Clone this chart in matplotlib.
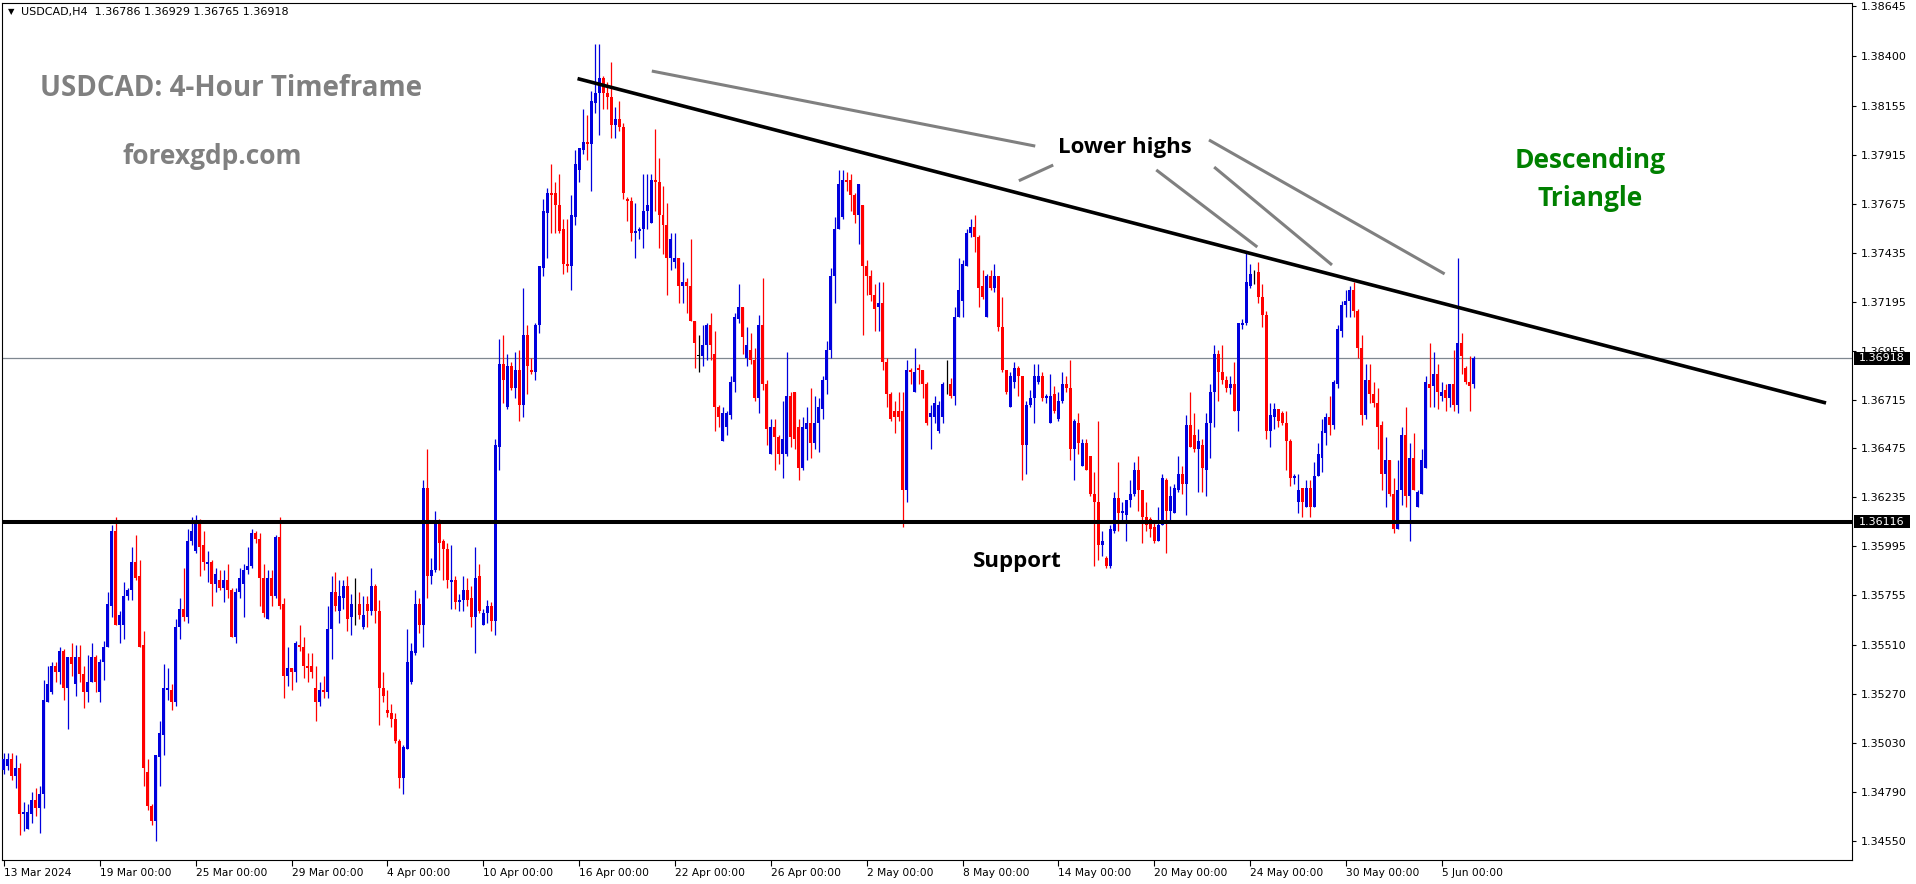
import numpy as np
import matplotlib.pyplot as plt
from matplotlib.patches import Rectangle
from matplotlib.transforms import blended_transform_factory

# H4 candles, values in pips above 1.3400
opens = [
    90, 92, 95, 87, 91, 68, 61, 68, 75, 71,
    78, 123, 128, 141, 138, 148, 130, 145, 132, 145,
    137, 128, 133, 145, 128, 143, 150, 170, 207, 161,
    161, 175, 178, 192, 185, 151, 89, 72, 65, 96,
    107, 129, 129, 123, 160, 169, 165, 202, 197, 211,
    200, 191, 192, 181, 183, 179, 183, 178, 155, 177,
    181, 188, 190, 206, 203, 184, 164, 184, 175, 204,
    171, 136, 140, 138, 151, 150, 141, 141, 130, 123,
    129, 128, 159, 177, 168, 174, 180, 165, 171, 171,
    160, 171, 168, 180, 168, 130, 119, 118, 115, 104,
    86, 100, 133, 147, 171, 161, 228, 185, 188, 211,
    202, 198, 182, 183, 172, 173, 178, 174, 165, 185,
    161, 167, 170, 163, 248, 289, 268, 288, 277, 286,
    269, 303, 286, 285, 308, 336, 363, 373, 373, 367,
    355, 338, 337, 361, 384, 394, 398, 397, 417, 422,
    429, 422, 420, 406, 409, 405, 370, 369, 353, 354,
    355, 364, 358, 379, 378, 362, 357, 341, 339, 341,
    327, 329, 327, 310, 293, 293, 298, 308, 294, 268,
    251, 258, 264, 280, 311, 317, 292, 296, 291, 272,
    308, 279, 245, 258, 253, 245, 245, 273, 275, 258,
    238, 257, 260, 250, 260, 267, 281, 296, 332, 355,
    361, 379, 379, 372, 362, 367, 337, 332, 323, 317,
    319, 290, 274, 266, 266, 266, 227, 286, 275, 287,
    286, 279, 263, 263, 256, 263, 278, 279, 273, 312,
    320, 337, 353, 356, 351, 327, 312, 332, 326, 332,
    307, 286, 268, 280, 287, 283, 249, 269, 272, 280,
    283, 272, 260, 274, 262, 271, 279, 277, 247, 260,
    239, 250, 244, 225, 221, 200, 194, 190, 207, 223,
    216, 215, 222, 225, 237, 227, 214, 213, 209, 202,
    210, 232, 217, 216, 227, 235, 230, 259, 254, 247,
    249, 237, 260, 275, 294, 285, 281, 277, 279, 266,
    308, 309, 327, 333, 334, 322, 313, 256, 263, 267,
    265, 260, 251, 233, 221, 228, 219, 228, 219, 234,
    243, 255, 263, 259, 279, 305, 318, 320, 325, 315,
    297, 264, 281, 274, 270, 259, 235, 242, 225, 208,
    227, 254, 224, 243, 219, 225, 238, 279, 278, 284,
    273, 276, 272, 279, 269, 299, 287, 280, 279,
]
highs = [
    98, 98, 98, 97, 93, 74, 73, 79, 81, 82,
    134, 141, 143, 143, 150, 149, 145, 152, 151, 151,
    141, 146, 152, 146, 144, 153, 177, 210, 214, 168,
    182, 179, 199, 205, 193, 158, 95, 73, 97, 114,
    142, 140, 132, 164, 174, 189, 208, 214, 215, 213,
    207, 197, 193, 189, 188, 188, 191, 179, 179, 189,
    191, 199, 208, 207, 206, 191, 188, 188, 205, 214,
    174, 150, 140, 153, 161, 155, 147, 147, 141, 133,
    136, 170, 185, 187, 183, 183, 185, 176, 184, 177,
    175, 175, 189, 181, 173, 138, 129, 122, 118, 105,
    102, 159, 152, 178, 174, 232, 247, 194, 217, 213,
    203, 201, 200, 185, 176, 185, 184, 180, 199, 191,
    169, 173, 172, 252, 301, 303, 294, 290, 295, 296,
    326, 308, 292, 309, 337, 370, 375, 387, 378, 382,
    360, 360, 372, 394, 395, 414, 411, 423, 446, 446,
    430, 427, 437, 415, 418, 407, 371, 371, 368, 356,
    382, 382, 382, 404, 390, 376, 368, 353, 353, 341,
    339, 331, 350, 310, 303, 308, 309, 314, 305, 269,
    268, 266, 283, 314, 328, 317, 307, 304, 297, 313,
    331, 281, 262, 262, 254, 271, 295, 275, 275, 262,
    263, 268, 277, 273, 272, 283, 300, 336, 361, 384,
    384, 383, 382, 373, 377, 367, 340, 335, 328, 329,
    329, 292, 275, 271, 275, 275, 291, 287, 297, 289,
    286, 280, 269, 273, 271, 280, 291, 282, 317, 341,
    340, 355, 360, 362, 352, 335, 333, 335, 338, 332,
    322, 286, 285, 290, 288, 283, 271, 276, 289, 289,
    285, 274, 284, 278, 275, 285, 283, 291, 262, 265,
    252, 252, 244, 236, 261, 207, 195, 210, 226, 241,
    221, 222, 232, 241, 244, 227, 221, 214, 212, 219,
    235, 233, 229, 230, 244, 239, 264, 275, 265, 257,
    252, 265, 279, 298, 296, 298, 283, 283, 290, 309,
    311, 344, 338, 335, 339, 328, 315, 270, 270, 267,
    266, 266, 252, 235, 235, 228, 232, 232, 241, 250,
    262, 265, 273, 281, 308, 320, 325, 327, 329, 316,
    303, 289, 289, 280, 277, 261, 253, 242, 233, 242,
    258, 268, 250, 255, 227, 247, 283, 299, 295, 289,
    280, 279, 279, 296, 341, 304, 288, 293, 293,
]
lows = [
    88, 90, 85, 81, 58, 60, 61, 64, 67, 59,
    71, 123, 127, 133, 132, 124, 110, 136, 126, 133,
    120, 123, 133, 128, 123, 134, 150, 165, 161, 152,
    154, 173, 173, 183, 150, 82, 70, 63, 55, 82,
    97, 124, 119, 121, 154, 163, 162, 200, 196, 185,
    188, 182, 170, 177, 178, 172, 174, 155, 152, 174,
    165, 186, 189, 201, 170, 165, 164, 170, 174, 169,
    125, 131, 129, 133, 148, 135, 133, 135, 114, 121,
    125, 125, 144, 168, 162, 169, 158, 156, 161, 164,
    159, 160, 166, 162, 112, 123, 116, 111, 103, 81,
    78, 100, 132, 146, 157, 150, 174, 181, 187, 188,
    183, 179, 169, 169, 168, 168, 170, 160, 147, 167,
    161, 162, 158, 156, 237, 270, 267, 276, 272, 261,
    263, 274, 284, 281, 304, 332, 341, 353, 353, 353,
    333, 334, 325, 357, 378, 392, 389, 374, 412, 401,
    414, 414, 400, 400, 403, 370, 359, 349, 341, 350,
    346, 355, 358, 364, 346, 343, 323, 335, 336, 319,
    319, 314, 310, 287, 285, 288, 291, 291, 256, 258,
    251, 254, 262, 275, 309, 294, 288, 289, 271, 265,
    276, 249, 245, 237, 240, 233, 244, 248, 247, 232,
    237, 242, 243, 247, 246, 262, 274, 292, 319, 355,
    360, 374, 364, 358, 348, 303, 323, 320, 305, 305,
    286, 268, 261, 255, 261, 209, 221, 279, 275, 279,
    272, 259, 247, 260, 255, 260, 274, 272, 269, 312,
    312, 337, 351, 344, 317, 321, 312, 325, 324, 305,
    285, 274, 268, 277, 273, 232, 235, 268, 260, 279,
    271, 270, 260, 265, 261, 270, 275, 242, 232, 245,
    239, 237, 224, 190, 193, 195, 189, 189, 206, 207,
    212, 202, 219, 224, 217, 201, 207, 204, 201, 202,
    210, 196, 212, 216, 226, 225, 215, 248, 246, 226,
    226, 224, 243, 258, 271, 279, 275, 274, 266, 256,
    306, 308, 326, 328, 319, 307, 252, 248, 257, 258,
    259, 237, 229, 230, 216, 214, 219, 214, 219, 234,
    236, 249, 254, 257, 277, 302, 312, 312, 312, 292,
    259, 262, 270, 268, 247, 227, 219, 224, 206, 208,
    220, 219, 202, 227, 219, 225, 238, 268, 268, 267,
    271, 266, 268, 266, 265, 284, 279, 266, 277,
]
closes = [
    95, 95, 87, 91, 68, 69, 69, 75, 71, 78,
    124, 132, 141, 138, 148, 130, 145, 142, 145, 137,
    128, 133, 145, 133, 143, 150, 171, 207, 161, 166,
    175, 178, 192, 184, 150, 91, 72, 65, 97, 108,
    130, 130, 123, 160, 169, 165, 202, 207, 211, 199,
    192, 192, 181, 186, 179, 183, 178, 155, 177, 184,
    188, 190, 206, 203, 184, 167, 184, 175, 204, 170,
    136, 140, 138, 152, 150, 141, 140, 138, 123, 129,
    128, 159, 177, 170, 175, 180, 164, 171, 171, 166,
    166, 168, 180, 168, 130, 126, 118, 115, 104, 86,
    101, 143, 148, 171, 161, 228, 185, 188, 212, 201,
    198, 183, 183, 172, 173, 178, 173, 165, 184, 168,
    167, 170, 163, 249, 289, 281, 288, 277, 286, 269,
    303, 288, 285, 308, 337, 364, 373, 372, 367, 354,
    338, 337, 362, 387, 395, 398, 397, 418, 422, 429,
    422, 420, 406, 409, 405, 373, 369, 353, 354, 355,
    364, 367, 379, 378, 362, 357, 341, 350, 341, 327,
    329, 327, 310, 299, 293, 298, 308, 298, 268, 263,
    265, 265, 280, 312, 317, 302, 298, 291, 272, 308,
    279, 257, 258, 253, 245, 252, 273, 253, 252, 238,
    258, 260, 250, 260, 268, 281, 296, 332, 355, 377,
    379, 378, 372, 362, 377, 337, 332, 323, 316, 319,
    290, 274, 262, 263, 263, 227, 286, 285, 285, 286,
    279, 260, 265, 270, 269, 279, 278, 273, 312, 325,
    338, 353, 356, 351, 326, 322, 332, 326, 332, 307,
    286, 275, 283, 287, 283, 249, 269, 272, 283, 283,
    272, 273, 273, 266, 271, 279, 277, 247, 261, 250,
    250, 237, 225, 221, 200, 202, 190, 208, 223, 216,
    217, 222, 225, 237, 227, 214, 210, 208, 202, 210,
    233, 217, 224, 228, 235, 230, 259, 248, 247, 251,
    238, 260, 275, 294, 285, 281, 277, 279, 266, 309,
    309, 329, 333, 333, 322, 313, 256, 264, 267, 261,
    260, 251, 233, 234, 227, 221, 228, 219, 234, 245,
    256, 263, 259, 280, 306, 318, 320, 325, 315, 297,
    264, 281, 274, 270, 258, 235, 242, 225, 208, 227,
    254, 224, 243, 227, 226, 242, 280, 277, 284, 275,
    275, 272, 279, 269, 299, 293, 280, 278, 292,
]

date_labels = ["13 Mar 2024", "19 Mar 00:00", "25 Mar 00:00", "29 Mar 00:00",
               "4 Apr 00:00", "10 Apr 00:00", "16 Apr 00:00", "22 Apr 00:00",
               "26 Apr 00:00", "2 May 00:00", "8 May 00:00", "14 May 00:00",
               "20 May 00:00", "24 May 00:00", "30 May 00:00", "5 Jun 00:00"]
date_bars = [0, 24, 48, 72, 96, 120, 144, 168, 192, 216, 240, 264, 288, 312, 336, 360]
price_ticks = [1.38645, 1.38400, 1.38155, 1.37915, 1.37675, 1.37435, 1.37195, 1.36955,
               1.36715, 1.36475, 1.36235, 1.35995, 1.35755, 1.35510, 1.35270, 1.35030,
               1.34790, 1.34550]

support = 1.36116
last_price = 1.36918
header = "USDCAD,H4  1.36786 1.36929 1.36765 1.36918"

# trendline and the grey "lower highs" pointers: (bar, price) pairs
trend = [(143.6, 1.38289), (456.2, 1.36698)]
pointers = [
    [(162.2, 1.38326), (258.2, 1.37958)],
    [(254.1, 1.37788), (262.7, 1.37865)],
    [(288.5, 1.37841), (313.8, 1.37463)],
    [(303.0, 1.37855), (332.5, 1.37375)],
    [(301.7, 1.37988), (360.7, 1.37331)],
]

o = 1.34 + np.array(opens) / 1e4
h = 1.34 + np.array(highs) / 1e4
l = 1.34 + np.array(lows) / 1e4
c = 1.34 + np.array(closes) / 1e4
h = np.maximum(h, np.maximum(o, c))
l = np.minimum(l, np.minimum(o, c))
idx = np.arange(len(o))

W, H = 1916, 884
fig = plt.figure(figsize=(W / 100, H / 100), dpi=100)
ax = fig.add_axes([2 / W, 24 / H, 1850 / W, 857 / H])

col = np.where(c > o, '#0000dd', np.where(c < o, '#ff0000', '#000000'))
ax.vlines(idx, l, h, colors=col, linewidth=0.9, zorder=3)
body = np.maximum(np.abs(c - o), 0.00003)
ax.bar(idx, body, bottom=np.minimum(o, c), width=0.75, color=col, linewidth=0, zorder=3)

ax.axhline(last_price, color='#7f8790', lw=0.9, zorder=1)
ax.axhline(support, color='black', lw=2.9, zorder=4)
ax.plot([p[0] for p in trend], [p[1] for p in trend], color='black', lw=2.6,
        solid_capstyle='butt', zorder=4)
for seg in pointers:
    ax.plot([p[0] for p in seg], [p[1] for p in seg], color='#808080', lw=2.2,
            solid_capstyle='butt', zorder=4)

ax.set_xlim(-0.5, 462.7)
ax.set_ylim(1.344566, 1.386597)

ax.yaxis.tick_right()
ax.set_yticks(price_ticks)
ax.set_yticklabels([f"{p:.5f}" for p in price_ticks])
ax.tick_params(axis='y', direction='out', length=3, width=0.8, pad=3, labelsize=8)
ax.set_xticks(date_bars)
ax.set_xticklabels(date_labels)
ax.tick_params(axis='x', direction='out', length=4, width=0.8, pad=2, labelsize=7.7)
for t in ax.get_xticklabels():
    t.set_horizontalalignment('left')
for s in ax.spines.values():
    s.set_linewidth(0.8)

# price boxes on the right scale
tr = blended_transform_factory(ax.transAxes, ax.transData)
for p in (last_price, support):
    ax.add_patch(Rectangle((1 + 1.5 / 1850, p - 6.5 / 20390), 56 / 1850, 13 / 20390,
                           transform=tr, clip_on=False, facecolor='black',
                           edgecolor='none', zorder=6))
    ax.text(1 + 7 / 1850, p, f"{p:.5f}", transform=tr, color='white', fontsize=8,
            va='center', ha='left', zorder=7, clip_on=False)

def px(x, y):
    return x / W, 1 - y / H

fig.text(*px(8, 12), "▼", fontsize=6, va='center', ha='left')
fig.text(*px(21, 12), header, fontsize=8, va='center', ha='left')

bold = dict(fontweight='bold', family=['Open Sans', 'DejaVu Sans'])
fig.text(*px(40, 89), "USDCAD: 4-Hour Timeframe", fontsize=20, color='#808080',
         va='center', ha='left', **bold)
fig.text(*px(122, 156), "forexgdp.com", fontsize=19, color='#808080',
         va='center', ha='left', **bold)
fig.text(*px(1058, 148), "Lower highs", fontsize=16, color='black',
         va='center', ha='left', **bold)
fig.text(*px(1590, 160), "Descending", fontsize=19, color='#008000',
         va='center', ha='center', **bold)
fig.text(*px(1590, 198), "Triangle", fontsize=19, color='#008000',
         va='center', ha='center', **bold)
fig.text(*px(973, 562), "Support", fontsize=16, color='black',
         va='center', ha='left', **bold)

fig.savefig("out.png", dpi=100)
